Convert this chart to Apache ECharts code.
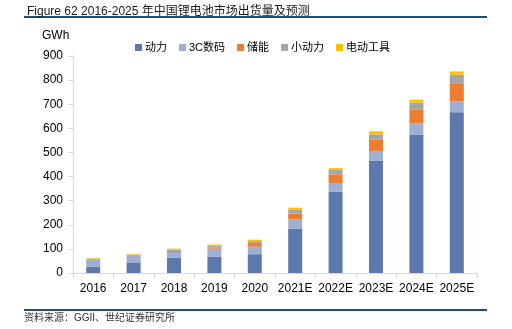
<!DOCTYPE html>
<html>
<head>
<meta charset="utf-8">
<script src="https://cdn.jsdelivr.net/npm/echarts@6/dist/echarts.min.js"></script>
<style>
  html, body { margin: 0; padding: 0; background: #fff; }
  #chart { width: 512px; height: 329px; }
</style>
</head>
<body>
<div id="chart"></div>
<script>
// China lithium battery shipments by application, GWh
const years = ['2016', '2017', '2018', '2019', '2020', '2021E', '2022E', '2023E', '2024E', '2025E'];
const power      = [27, 44, 63, 68, 78, 184, 337, 467, 574, 667];   // 动力
const digital3C  = [30, 29, 24, 33, 31, 39, 36, 38, 47, 45];        // 3C数码
const storage    = [1.5, 2, 5, 5, 15, 23, 36, 48, 58, 75];          // 储能
const smallPower = [1, 1.5, 6, 8, 8, 16, 18, 22, 28, 36];           // 小动力
const powerTools = [2.5, 2.5, 3, 4, 6, 9, 8, 13, 12, 13];           // 电动工具
const yTicks = { min: 0, max: 900, interval: 100 };

const FONT = '"Liberation Sans", Arial, "Noto Sans CJK SC", sans-serif';

const seriesDefs = [
  { name: '动力', data: power, color: '#5D78AC' },
  { name: '3C数码', data: digital3C, color: '#9EAFD1' },
  { name: '储能', data: storage, color: '#ED7D31' },
  { name: '小动力', data: smallPower, color: '#A5A5A5' },
  { name: '电动工具', data: powerTools, color: '#FFC000' }
];

const chart = echarts.init(document.getElementById('chart'), null, { renderer: 'canvas' });

chart.setOption({
  animation: false,
  backgroundColor: '#ffffff',
  title: {
    text: 'Figure 62 2016-2025 年中国锂电池市场出货量及预测',
    left: 22,
    top: 1,
    textStyle: { fontFamily: FONT, fontSize: 12, fontWeight: 'normal', color: '#1a1a1a' }
  },
  graphic: [
    { type: 'rect', left: 24, top: 16, shape: { width: 463, height: 2 }, style: { fill: '#1F4E79' } },
    { type: 'rect', left: 24, top: 309, shape: { width: 463, height: 2 }, style: { fill: '#1F4E79' } },
    { type: 'text', left: 42, top: 30, style: { text: 'GWh', font: '12px ' + FONT, fill: '#000' } },
    { type: 'text', left: 24, top: 313, style: { text: '资料来源：GGII、世纪证券研究所', font: '10px ' + FONT, fill: '#333' } }
  ],
  legend: {
    left: 130,
    top: 37,
    itemWidth: 7,
    itemHeight: 7,
    itemGap: 12,
    icon: 'rect',
    textStyle: { fontFamily: FONT, fontSize: 11, color: '#000', padding: [0, 0, 0, -2] },
    data: seriesDefs.map(s => s.name)
  },
  grid: { left: 73, right: 35, top: 56, bottom: 56, containLabel: false },
  xAxis: {
    type: 'category',
    data: years,
    axisLine: { lineStyle: { color: '#d9d9d9', width: 1 } },
    axisTick: { show: true, length: 5, lineStyle: { color: '#d9d9d9' } },
    axisLabel: { fontFamily: FONT, fontSize: 12, color: '#000', margin: 10, interval: 0 }
  },
  yAxis: {
    type: 'value',
    min: yTicks.min,
    max: yTicks.max,
    interval: yTicks.interval,
    splitLine: { show: false },
    axisLine: { show: true, lineStyle: { color: '#d9d9d9', width: 1 } },
    axisTick: { show: true, length: 5, lineStyle: { color: '#d9d9d9' } },
    axisLabel: { fontFamily: FONT, fontSize: 12, color: '#000', margin: 10 }
  },
  series: seriesDefs.map(s => ({
    name: s.name,
    type: 'bar',
    stack: 'total',
    barWidth: 14,
    data: s.data,
    itemStyle: { color: s.color }
  }))
});
</script>
</body>
</html>
